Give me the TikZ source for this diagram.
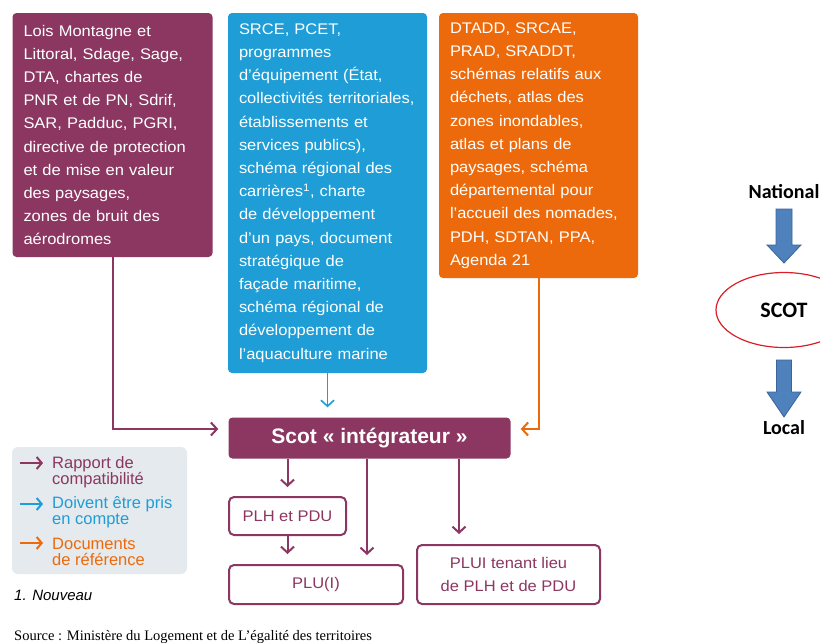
\documentclass[tikz,border=0pt]{standalone}
\usepackage{fontspec}
\setmainfont{Liberation Sans}
\newfontfamily\boxfont[FakeStretch=1.07]{Liberation Sans}
\newfontfamily\calfont{Carlito}
\newfontfamily\tnrfont{Liberation Serif}
\usetikzlibrary{arrows.meta,shapes.geometric}
\hyphenpenalty=10000
\exhyphenpenalty=10000
\definecolor{cpurple}{RGB}{139,55,97}
\definecolor{cblue}{RGB}{30,157,214}
\definecolor{corange}{RGB}{236,106,12}
\definecolor{clegend}{RGB}{229,234,238}
\definecolor{carrow}{RGB}{79,129,189}
\definecolor{carrowd}{RGB}{58,100,155}
\definecolor{cred}{RGB}{220,30,40}
\tikzset{
  bigbox/.style={rectangle, rounded corners=4pt, inner xsep=11pt, inner ysep=0pt, align=left,
    text=white, font=\boxfont\fontsize{15.4}{23.2}\selectfont},
  smallbox/.style={rectangle, rounded corners=5pt, draw=cpurple, line width=2pt, fill=white,
    text=cpurple, align=center, font=\boxfont\fontsize{15.4}{23}\selectfont},
  conn/.style={line width=2pt, -{Straight Barb[length=6pt,width=13pt]}},
  legtext/.style={anchor=west, inner sep=0pt, align=left, font=\fontsize{16.5}{16.5}\selectfont},
  blockarrow/.style={fill=carrow, draw=carrowd, line width=0.8pt},
  rlabel/.style={font=\calfont\bfseries\fontsize{20}{22}\selectfont, text=black}
}
\begin{document}
\begin{tikzpicture}[x=1pt,y=-1pt]
\useasboundingbox (0,0) rectangle (820,643);
\fill[white] (0,0) rectangle (820,643);

% top boxes
\node[bigbox, fill=cpurple, minimum width=200pt, minimum height=244pt, text width=178pt] (lois) at (112.5,135) {%
Lois Montagne et\\Littoral, Sdage, Sage,\\DTA, chartes de\\PNR et de PN, Sdrif,\\SAR, Padduc, PGRI,\\directive de protection\\et de mise en valeur\\des paysages,\\zones de bruit des\\aérodromes};

\node[bigbox, fill=cblue, minimum width=199pt, minimum height=360pt, text width=177pt] (srce) at (327.5,193) {%
SRCE, PCET,\\programmes\\d’équipement (État,\\collectivités territoriales,\\établissements et\\services publics),\\schéma régional des\\carrières\textsuperscript{1}, charte\\de développement\\d’un pays, document\\stratégique de\\façade maritime,\\schéma régional de\\développement de\\l’aquaculture marine};

\node[bigbox, fill=corange, minimum width=199pt, minimum height=265pt, text width=177pt] (dtadd) at (538.5,145.5) {%
DTADD, SRCAE,\\PRAD, SRADDT,\\schémas relatifs aux\\déchets, atlas des\\zones inondables,\\atlas et plans de\\paysages, schéma\\départemental pour\\l’accueil des nomades,\\PDH, SDTAN, PPA,\\Agenda 21};

% Scot box
\node[rectangle, rounded corners=4pt, fill=cpurple, minimum width=282pt, minimum height=41pt,
  text=white, font=\bfseries\fontsize{21}{24}\selectfont] (scot) at (369.5,438) {Scot « intégrateur »};

% lower boxes
\node[smallbox, minimum width=117pt, minimum height=38pt] (plh) at (287.5,516) {PLH et PDU};
\node[smallbox, minimum width=174pt, minimum height=39pt] (plu) at (316,584.5) {PLU(I)};
\node[smallbox, minimum width=183pt, minimum height=59pt] (plui) at (508.5,574.5) {PLUI tenant lieu\\de PLH et de PDU};

% connectors into Scot
\draw[conn, cpurple, shorten >=10pt] (lois.south) |- ([yshift=9pt]scot.west);
\draw[conn, cblue, line width=1.6pt, shorten >=10pt] (srce.south) -- (srce.south |- scot.north);
\draw[conn, corange, shorten >=10pt] (dtadd.south) |- ([yshift=9pt]scot.east);

% connectors out of Scot
\coordinate (s2) at ([xshift=-2.5pt]scot.south);
\coordinate (s3) at ([xshift=89.5pt]scot.south);
\draw[conn, cpurple, shorten >=9pt] (plh.north |- scot.south) -- (plh.north);
\draw[conn, cpurple, shorten >=9pt] (s2) -- (s2 |- plu.north);
\draw[conn, cpurple, shorten >=10pt] (s3) -- (s3 |- plui.north);
\draw[conn, cpurple, shorten >=10pt] (plh.south) -- (plh.south |- plu.north);

% legend
\node[rectangle, rounded corners=6pt, fill=clegend, minimum width=175pt, minimum height=127pt] (legend) at (99.5,510.5) {};
\coordinate (la1) at (20,463);  \coordinate (lb1) at (43,463);
\coordinate (la2) at (20,504);  \coordinate (lb2) at (43,504);
\coordinate (la3) at (20,543);  \coordinate (lb3) at (43,543);
\draw[cpurple, line width=2pt, -{Straight Barb[length=5pt,width=12pt]}] (la1) -- (lb1);
\draw[cblue, line width=2pt, -{Straight Barb[length=5pt,width=12pt]}] (la2) -- (lb2);
\draw[corange, line width=2pt, -{Straight Barb[length=5pt,width=12pt]}] (la3) -- (lb3);
\node[legtext, text=cpurple] (lt1) at (52,472) {Rapport de\\compatibilité};
\node[legtext, text=cblue] (lt2) at (52,512) {Doivent être pris\\en compte};
\node[legtext, text=corange] (lt3) at (52,552) {Documents\\de référence};

\node[anchor=west, inner sep=0pt, font=\itshape\fontsize{15}{16}\selectfont] (note) at (14,595) {1. Nouveau};
\node[anchor=west, inner sep=0pt, font=\tnrfont\fontsize{14.5}{16}\selectfont] (source) at (14,637) {Source : Ministère du Logement et de L’égalité des territoires};

% right side
\node[rlabel] (national) at (784,192) {National};
\node[ellipse, draw=cred, line width=1.2pt, minimum width=136pt, minimum height=75pt,
  font=\calfont\bfseries\fontsize{22}{24}\selectfont] (scotr) at (784,310) {SCOT};
\node[rlabel] (local) at (784,428) {Local};
\draw[blockarrow] (776,209) -- (792,209) -- (792,245) -- (801,245) -- (784,263) -- (767,245) -- (776,245) -- cycle;
\draw[blockarrow] (776.5,360) -- (791.5,360) -- (791.5,392) -- (801,392) -- (784,417) -- (767,392) -- (776.5,392) -- cycle;
\end{tikzpicture}
\end{document}
